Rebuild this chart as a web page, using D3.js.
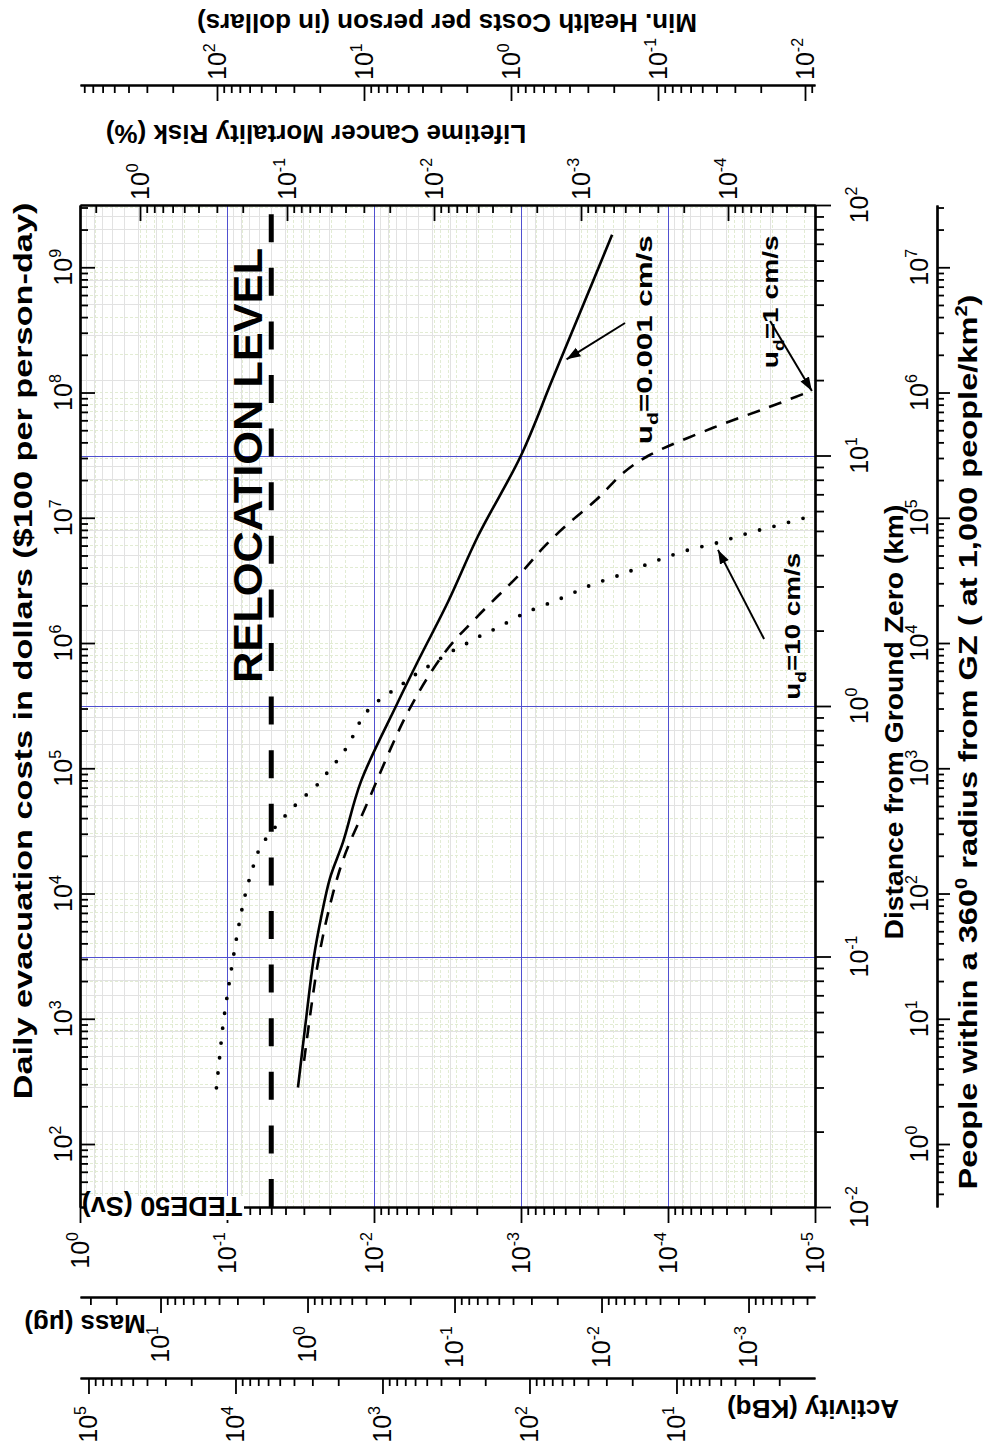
<!DOCTYPE html>
<html>
<head>
<meta charset="utf-8">
<script src="https://d3js.org/d3.v7.min.js"></script>
<style>
  body { margin: 0; background: #fff; }
  svg { font-family: 'Liberation Sans', Arial, sans-serif; }
  .axis path, .axis line { stroke: #000; }
</style>
</head>
<body>
<div id="chart"></div>
<script>
// dose curves: distance from ground zero (km) and TEDE50 (Sv)
var distSlow = [0.030, 0.0533, 0.10, 0.143, 0.206, 0.286, 0.50, 1.0, 1.54, 2.6, 4.77, 10, 20, 40, 76];
var tedeSlow = [0.0329, 0.0293, 0.0256, 0.0229, 0.0199, 0.01625, 0.01226, 0.00708, 0.00494, 0.00314, 0.00196, 0.001, 6.14e-4, 3.77e-4, 2.4e-4];

var distMid = [0.0383, 0.090, 0.1426, 0.2427, 0.399, 0.964, 1.64, 2.29, 3.40, 4.36, 5.38, 6.64, 8.51, 10, 12.9, 15.5, 18.1];
var tedeMid = [0.0299, 0.0244, 0.0209, 0.01625, 0.01133, 0.00578, 0.00329, 0.00196, 0.001, 6.87e-4, 4.71e-4, 3.09e-4, 2.02e-4, 1.35e-4, 4.94e-5, 2.12e-5, 1.06e-5];

var distFast = [0.0299, 0.0401, 0.0543, 0.0728, 0.0977, 0.131, 0.1745, 0.234, 0.276, 0.371, 0.426, 0.484, 0.56, 0.649, 0.758, 0.879, 1.0, 1.117, 1.236, 1.367, 1.486, 1.63, 1.754, 1.903, 2.047, 2.35, 2.67, 3.04, 3.37, 3.76, 4.16, 4.48, 4.91, 5.28, 5.73];
var tedeFast = [0.118, 0.112, 0.106, 0.0985, 0.091, 0.0835, 0.0755, 0.0655, 0.0587, 0.0391, 0.0309, 0.0244, 0.0199, 0.01625, 0.0139, 0.01226, 0.01032, 0.00803, 0.00625, 0.00494, 0.00391, 0.00309, 0.00244, 0.0019, 0.00146, 9.4e-4, 5.5e-4, 3.34e-4, 2.02e-4, 1.26e-4, 7.66e-5, 4.64e-5, 2.81e-5, 1.76e-5, 1.06e-5];

var relocationTede = 0.05;

// curve labels and arrows (distance km, tede Sv)
var labelText = ['=0.001 cm/s', '=1 cm/s', '=10 cm/s'];
var labelDist = [11.1, 22.3, 1.06];
var labelTede = [1.28e-4, 1.79e-5, 1.26e-5];
var labelLen = [209, 133, 147];
var arrowFrom = [[33.8, 1.96e-4], [34.4, 2.02e-5], [1.85, 2.22e-5]];
var arrowTo = [[24.2, 4.9e-4], [18.1, 1.05e-5], [4.2, 4.57e-5]];

// factors for the companion axes
var riskPerSv = 2.56;        // lifetime cancer mortality (%) per Sv
var healthPerSv = 855;       // min. health cost ($) per Sv
var massPerSv = 35.3;        // ug per Sv
var activityPerSv = 1.142e5; // KBq per Sv
var costPerKm2 = 1e5;        // $100 per person-day at 1,000 people/km2
var peoplePerKm2 = 1000;

var W = 985, H = 1452;
var pLeft = 80, pRight = 815, pTop = 205, pBottom = 1207;

var svg = d3.select('#chart').append('svg')
    .attr('width', W)
    .attr('height', H);

var x = d3.scaleLog().domain([1, 1e-5]).range([pLeft, pRight]);
var y = d3.scaleLog().domain([0.01, 100]).range([pBottom, pTop]);

function scaled(base, k) {
    return d3.scaleLog().domain(base.domain().map(function (v) { return v * k; })).range(base.range());
}
var xRisk = scaled(x, riskPerSv),
    xHealth = scaled(x, healthPerSv),
    xMass = scaled(x, massPerSv),
    xAct = scaled(x, activityPerSv);
var yCost = d3.scaleLog().domain(y.domain().map(function (d) { return costPerKm2 * Math.PI * d * d; })).range(y.range());
var yPeople = d3.scaleLog().domain(y.domain().map(function (d) { return peoplePerKm2 * Math.PI * d * d; })).range(y.range());

function logTicks(scale) {
    var dom = scale.domain(),
        lo = Math.min(dom[0], dom[1]), hi = Math.max(dom[0], dom[1]);
    var major = [], minor = [];
    for (var e = Math.floor(Math.log10(lo)); e <= Math.ceil(Math.log10(hi)); e++) {
        for (var k = 1; k < 10; k++) {
            var v = +(k + 'e' + e);
            if (v < lo * 0.9999 || v > hi * 1.0001) continue;
            (k === 1 ? major : minor).push(v);
        }
    }
    return { major: major, minor: minor };
}

// stretch a rotated text along its own length
function fit(sel, len) {
    var n = sel.node().getComputedTextLength();
    sel.attr('transform', sel.attr('transform') + ' scale(' + (len / n) + ',1)');
}

// grid
var grid = svg.append('g').attr('shape-rendering', 'crispEdges');
function vlines(g, vals, sc, color, dash) {
    g.append('g').selectAll('line').data(vals).enter().append('line')
        .attr('x1', sc).attr('x2', sc).attr('y1', pTop).attr('y2', pBottom)
        .attr('stroke', color).attr('stroke-width', 1).attr('stroke-dasharray', dash);
}
function hlines(g, vals, sc, color, dash) {
    g.append('g').selectAll('line').data(vals).enter().append('line')
        .attr('y1', sc).attr('y2', sc).attr('x1', pLeft).attr('x2', pRight)
        .attr('stroke', color).attr('stroke-width', 1).attr('stroke-dasharray', dash);
}
vlines(grid, logTicks(xRisk).minor.concat(logTicks(xRisk).major), xRisk, '#e2ecd3', '3,2');
hlines(grid, logTicks(yCost).minor.concat(logTicks(yCost).major), yCost, '#e2ecd3', '3,2');
vlines(grid, logTicks(x).minor, x, '#e2e2e2', null);
hlines(grid, logTicks(y).minor, y, '#e2e2e2', null);

var majorGrid = svg.append('g');
function px(sc) { return function (v) { return Math.round(sc(v)) + 0.5; }; }
vlines(majorGrid, [1e-1, 1e-2, 1e-3, 1e-4], px(x), '#5050d0', null);
hlines(majorGrid, [1e-1, 1, 10], px(y), '#5050d0', null);

// relocation level
svg.append('line')
    .attr('x1', x(relocationTede)).attr('x2', x(relocationTede))
    .attr('y1', pBottom).attr('y2', pTop)
    .attr('stroke', '#000').attr('stroke-width', 5)
    .attr('stroke-dasharray', '28,25.6');

svg.append('text')
    .attr('transform', 'translate(' + (x(relocationTede) - 9) + ',683) rotate(-90)')
    .attr('font-size', 40).attr('font-weight', 'bold')
    .attr('textLength', 435).attr('lengthAdjust', 'spacingAndGlyphs')
    .text('RELOCATION LEVEL');

// curves
var line = d3.line()
    .x(function (d) { return x(d[1]); })
    .y(function (d) { return y(d[0]); })
    .curve(d3.curveCatmullRom.alpha(0.5));
function pairs(ds, ts) { return ds.map(function (d, i) { return [d, ts[i]]; }); }

var plot = svg.append('g');
plot.append('path').datum(pairs(distSlow, tedeSlow)).attr('d', line)
    .attr('fill', 'none').attr('stroke', '#000').attr('stroke-width', 2.6);
plot.append('path').datum(pairs(distMid, tedeMid)).attr('d', line)
    .attr('fill', 'none').attr('stroke', '#000').attr('stroke-width', 2.6)
    .attr('stroke-dasharray', '13,10');
plot.append('path').datum(pairs(distFast, tedeFast)).attr('d', line)
    .attr('fill', 'none').attr('stroke', '#000').attr('stroke-width', 3.8)
    .attr('stroke-linecap', 'round').attr('stroke-dasharray', '0,15');

// arrows
svg.append('defs').append('marker')
    .attr('id', 'arrow').attr('viewBox', '0 0 10 10')
    .attr('refX', 10).attr('refY', 5)
    .attr('markerWidth', 7).attr('markerHeight', 7)
    .attr('orient', 'auto')
    .append('path').attr('d', 'M0,1.5 L10,5 L0,8.5 z').attr('fill', '#000');

arrowFrom.forEach(function (f, i) {
    svg.append('line')
        .attr('x1', x(f[1])).attr('y1', y(f[0]))
        .attr('x2', x(arrowTo[i][1])).attr('y2', y(arrowTo[i][0]))
        .attr('stroke', '#000').attr('stroke-width', 2)
        .attr('marker-end', 'url(#arrow)');
});

labelText.forEach(function (s, i) {
    var t = svg.append('text')
        .attr('transform', 'translate(' + x(labelTede[i]) + ',' + y(labelDist[i]) + ') rotate(-90)')
        .attr('font-size', 22).attr('font-weight', 'bold');
    t.append('tspan').text('u');
    t.append('tspan').attr('dy', 6).attr('font-size', 15).text('d');
    t.append('tspan').attr('dy', -6).text(s);
    fit(t, labelLen[i]);
});

// axes
function drawAxis(axisFn, scale, translate, majorLen, minorLen) {
    var t = logTicks(scale);
    var g = svg.append('g').attr('class', 'axis').attr('transform', translate);
    g.append('g').call(axisFn(scale).tickValues(t.minor).tickSize(minorLen).tickSizeOuter(0).tickFormat(''));
    g.append('g').call(axisFn(scale).tickValues(t.major).tickSize(majorLen).tickSizeOuter(0).tickFormat(''));
    g.selectAll('.domain').attr('stroke-width', 2.2);
    g.selectAll('.tick line').attr('stroke-width', 1.8);
    return t;
}

function expLabel(px, py, anchor, v) {
    var e = Math.round(Math.log10(v));
    var t = svg.append('text')
        .attr('transform', 'translate(' + px + ',' + py + ') rotate(-90)')
        .attr('text-anchor', anchor).attr('font-size', 25).attr('dy', '0.35em');
    t.append('tspan').text('10');
    t.append('tspan').attr('dy', -11).attr('font-size', 16).text(e);
}

var tTede = drawAxis(d3.axisBottom, x, 'translate(0,' + pBottom + ')', 16, 8);
tTede.major.forEach(function (v) { expLabel(x(v), 1232, 'end', v); });

var tRisk = drawAxis(d3.axisBottom, xRisk, 'translate(0,' + pTop + ')', 16, 8);
tRisk.major.forEach(function (v) { expLabel(xRisk(v), 200, 'start', v); });

var tHealth = drawAxis(d3.axisBottom, xHealth, 'translate(0,85)', 16, 8);
tHealth.major.forEach(function (v) { expLabel(xHealth(v), 80, 'start', v); });

var tMass = drawAxis(d3.axisBottom, xMass, 'translate(0,1297)', 16, 8);
tMass.major.forEach(function (v) { expLabel(xMass(v), 1326, 'end', v); });

var tAct = drawAxis(d3.axisBottom, xAct, 'translate(0,1378)', 16, 8);
tAct.major.forEach(function (v) { expLabel(xAct(v), 1406, 'end', v); });

var tCost = drawAxis(d3.axisRight, yCost, 'translate(' + pLeft + ',0)', 15, 8);
tCost.major.forEach(function (v) { expLabel(63, yCost(v), 'middle', v); });

var tDist = drawAxis(d3.axisRight, y, 'translate(' + pRight + ',0)', 16, 9);
tDist.major.forEach(function (v) { expLabel(859, y(v), 'middle', v); });

var tPeople = drawAxis(d3.axisRight, yPeople, 'translate(937,0)', 13, 7);
tPeople.major.forEach(function (v) { expLabel(919, yPeople(v), 'middle', v); });

// axis titles
function title(px, py, angle, str, size) {
    return svg.append('text')
        .attr('transform', 'translate(' + px + ',' + py + ') rotate(' + angle + ')')
        .attr('text-anchor', 'middle').attr('font-size', size || 26).attr('font-weight', 'bold')
        .text(str);
}
fit(title(32, 651, -90, 'Daily evacuation costs in dollars ($100 per person-day)'), 897);
fit(title(903, 722, -90, 'Distance from Ground Zero (km)'), 435);

var people = svg.append('text')
    .attr('transform', 'translate(977,742) rotate(-90)')
    .attr('text-anchor', 'middle').attr('font-size', 26).attr('font-weight', 'bold');
people.append('tspan').text('People within a 360');
people.append('tspan').attr('dy', -10).attr('font-size', 16).text('0');
people.append('tspan').attr('dy', 10).text(' radius from GZ ( at 1,000 people/km');
people.append('tspan').attr('dy', -10).attr('font-size', 16).text('2');
people.append('tspan').attr('dy', 10).text(')');
fit(people, 895);

title(316, 125, 180, 'Lifetime Cancer Mortality Risk (%)');
title(447, 14, 180, 'Min. Health Costs per person (in dollars)');
title(85, 1315, 180, 'Mass (\u03bcg)');
title(813, 1400, 180, 'Activity (KBq)');

svg.append('rect').attr('x', 84).attr('y', 1196).attr('width', 160).attr('height', 24).attr('fill', '#fff');
title(162, 1197, 180, 'TEDE50 (Sv)', 27);
</script>
</body>
</html>
